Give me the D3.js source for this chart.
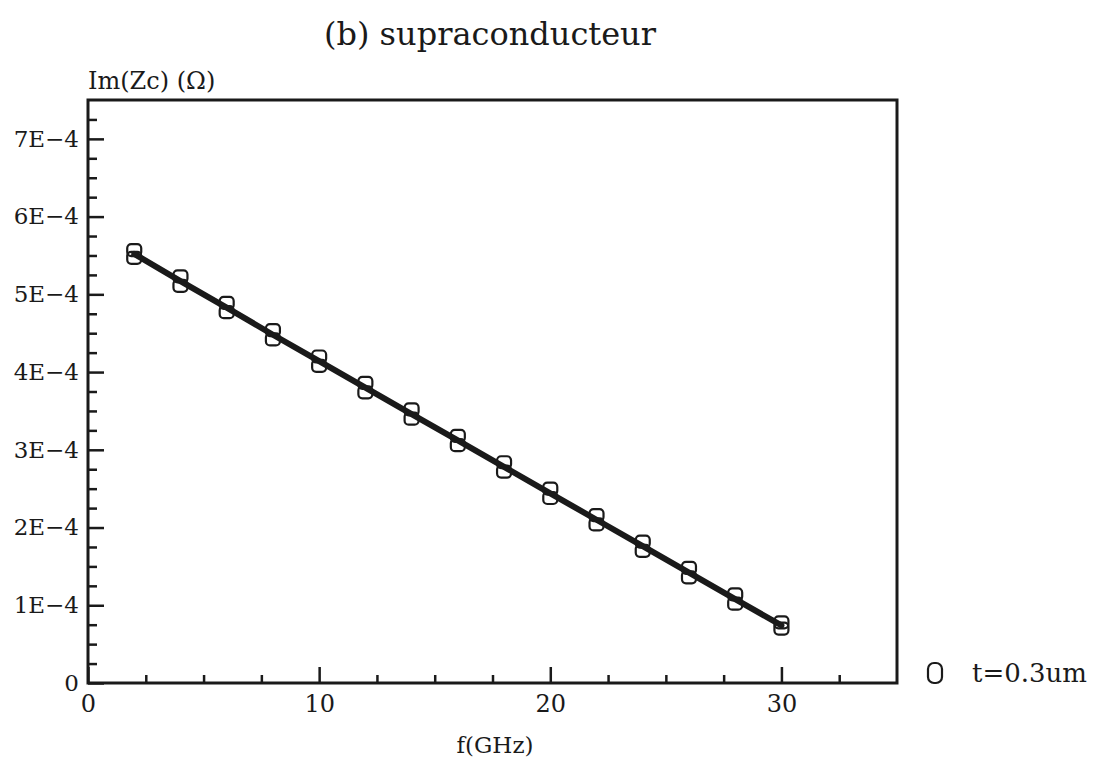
<!DOCTYPE html>
<html>
<head>
<meta charset="utf-8">
<script src="https://cdn.jsdelivr.net/npm/d3@7"></script>
<style>
  html, body { margin: 0; padding: 0; background: #fff; overflow: hidden; }
  svg { display: block; }
</style>
</head>
<body>
<div id="chart"></div>
<script>
// frequencies (GHz)
const freqs = [2, 4, 6, 8, 10, 12, 14, 16, 18, 20, 22, 24, 26, 28, 30];
// Im(Zc) in units of 1E-4 ohm, two nearly coincident point sets + drawn curve
const upperValues = [5.57, 5.23, 4.89, 4.54, 4.20, 3.86, 3.52, 3.18, 2.84, 2.50, 2.16, 1.82, 1.48, 1.14, 0.78];
const lowerValues = [5.47, 5.11, 4.77, 4.42, 4.08, 3.74, 3.40, 3.06, 2.72, 2.38, 2.04, 1.70, 1.36, 1.02, 0.70];
const curveValues = [5.52, 5.17, 4.83, 4.48, 4.14, 3.80, 3.46, 3.12, 2.78, 2.44, 2.10, 1.76, 1.42, 1.08, 0.74];

const xMajorTicks = [0, 10, 20, 30];
const xMinorTicks = [2.5, 5, 7.5, 12.5, 15, 17.5, 22.5, 25, 27.5, 32.5];
const yMajorTicks = [0, 1, 2, 3, 4, 5, 6, 7];
const yTickLabels = ["0", "1E\u22124", "2E\u22124", "3E\u22124", "4E\u22124", "5E\u22124", "6E\u22124", "7E\u22124"];
const yMinorTicks = [0.25, 0.5, 0.75, 1.25, 1.5, 1.75, 2.25, 2.5, 2.75, 3.25, 3.5, 3.75,
  4.25, 4.5, 4.75, 5.25, 5.5, 5.75, 6.25, 6.5, 6.75, 7.25];

const width = 1103, height = 764;
const margin = { top: 100, right: 206, bottom: 81, left: 88 };
const innerWidth = width - margin.left - margin.right;
const innerHeight = height - margin.top - margin.bottom;
const ink = "#1a1a1a";
const serif = "DejaVu Serif, serif";

const svg = d3.select("#chart").append("svg")
  .attr("width", width)
  .attr("height", height)
  .attr("font-family", serif)
  .attr("fill", ink);

const g = svg.append("g")
  .attr("transform", "translate(" + margin.left + "," + margin.top + ")");

const x = d3.scaleLinear().domain([0, 35]).range([0, innerWidth]);
const y = d3.scaleLinear().domain([0, 7.5]).range([innerHeight, 0]);

// frame
g.append("rect")
  .attr("width", innerWidth)
  .attr("height", innerHeight)
  .attr("fill", "none")
  .attr("stroke", ink)
  .attr("stroke-width", 3);

// minor ticks (no labels)
const xMinor = g.append("g")
  .attr("transform", "translate(0," + innerHeight + ")")
  .call(d3.axisBottom(x).tickValues(xMinorTicks).tickSize(-8).tickFormat(""));
const yMinor = g.append("g")
  .call(d3.axisLeft(y).tickValues(yMinorTicks).tickSize(-9).tickFormat(""));
xMinor.selectAll("text").remove();
yMinor.selectAll("text").remove();

// major ticks with labels
const xAxis = g.append("g")
  .attr("class", "x axis")
  .attr("transform", "translate(0," + innerHeight + ")")
  .call(d3.axisBottom(x).tickValues(xMajorTicks).tickSize(-16).tickPadding(12)
    .tickFormat(d3.format("d")))
  .attr("font-family", serif)
  .attr("font-size", 24);
const yAxis = g.append("g")
  .attr("class", "y axis")
  .call(d3.axisLeft(y).tickValues(yMajorTicks).tickSize(-16).tickPadding(9)
    .tickFormat((d, i) => yTickLabels[i]))
  .attr("font-family", serif)
  .attr("font-size", 23);

g.selectAll(".domain").remove();
g.selectAll(".tick line").attr("stroke", ink).attr("stroke-width", 2.5);
g.selectAll(".tick text").attr("fill", ink);

// fitted curve
const line = d3.line()
  .x((d, i) => x(freqs[i]))
  .y(d => y(d));

g.append("path")
  .datum(curveValues)
  .attr("fill", "none")
  .attr("stroke", ink)
  .attr("stroke-width", 6)
  .attr("stroke-linecap", "round")
  .attr("d", line);

// point markers (rounded boxes)
const mw = 14, mh = 12;
function drawMarkers(values, cls) {
  g.selectAll("." + cls)
    .data(values)
    .enter()
    .append("rect")
    .attr("class", cls)
    .attr("x", (d, i) => x(freqs[i]) - mw / 2)
    .attr("y", d => y(d) - mh / 2)
    .attr("width", mw)
    .attr("height", mh)
    .attr("rx", 4)
    .attr("fill", "none")
    .attr("stroke", ink)
    .attr("stroke-width", 2.2);
}
drawMarkers(upperValues, "mk-up");
drawMarkers(lowerValues, "mk-low");

// title and axis labels
svg.append("text")
  .attr("x", 490)
  .attr("y", 45)
  .attr("text-anchor", "middle")
  .attr("font-size", 32)
  .text("(b) supraconducteur");

svg.append("text")
  .attr("x", 88)
  .attr("y", 89)
  .attr("font-size", 24)
  .text("Im(Zc) (\u03A9)");

svg.append("text")
  .attr("x", 495)
  .attr("y", 753)
  .attr("text-anchor", "middle")
  .attr("font-size", 23)
  .text("f(GHz)");

// legend
const legend = svg.append("g")
  .attr("transform", "translate(935," + 673 + ")");
legend.append("rect")
  .attr("x", -7)
  .attr("y", -10)
  .attr("width", 14)
  .attr("height", 20)
  .attr("rx", 6)
  .attr("fill", "none")
  .attr("stroke", ink)
  .attr("stroke-width", 2.2);
legend.append("text")
  .attr("x", 37)
  .attr("y", 0)
  .attr("dy", "0.36em")
  .attr("font-size", 26)
  .text("t=0.3um");
</script>
</body>
</html>
